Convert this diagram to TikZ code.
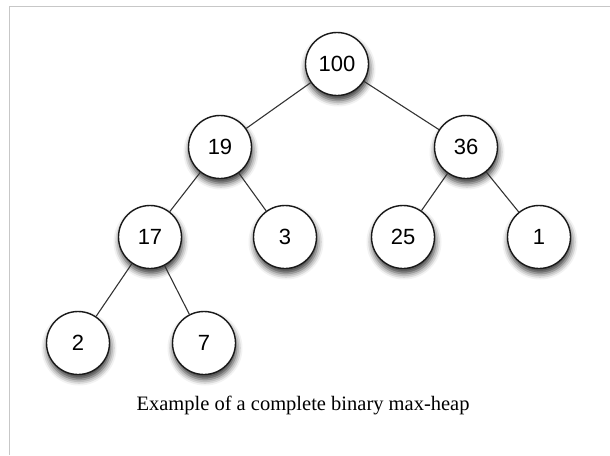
\documentclass[tikz,border=0pt]{standalone}
\usepackage{fontspec}
\setmainfont{Liberation Serif}
\newfontfamily\numfont{Liberation Sans}
\usetikzlibrary{shadows.blur}

\begin{document}
\begin{tikzpicture}[x=1pt, y=-1pt,
    heapnode/.style={circle, draw=black!90, line width=1.4pt, fill=white, minimum size=63pt, inner sep=0pt,
        font=\numfont\fontsize{22}{22}\selectfont,
        blur shadow={shadow xshift=1pt, shadow yshift=-5pt, shadow blur radius=6pt, shadow opacity=80}},
    edge/.style={draw=black!80, line width=1.1pt}]
				\useasboundingbox (0,0) rectangle (610,455);
				\draw[black!22, line width=1pt] (9.5,455) -- (9.5,6) -- (610,6);
				\node[heapnode] (n100) at (337,64) {100};
				\node[heapnode] (n19) at (220,147) {19};
				\node[heapnode] (n36) at (466,147) {36};
				\node[heapnode] (n17) at (150,237) {17};
				\node[heapnode] (n3) at (285,237) {3};
				\node[heapnode] (n25) at (403,237) {25};
				\node[heapnode] (n1) at (539,237) {1};
				\node[heapnode] (n2) at (78,343) {2};
				\node[heapnode] (n7) at (204,343) {7};
				\draw[edge] (n100) -- (n19);
				\draw[edge] (n100) -- (n36);
				\draw[edge] (n19) -- (n17);
				\draw[edge] (n19) -- (n3);
				\draw[edge] (n36) -- (n25);
				\draw[edge] (n36) -- (n1);
				\draw[edge] (n17) -- (n2);
				\draw[edge] (n17) -- (n7);
				\node[font=\fontsize{20.5}{20.5}\selectfont] (caption) at (303,405) {Example of a complete binary max-heap};
			\end{tikzpicture}
\end{document}
